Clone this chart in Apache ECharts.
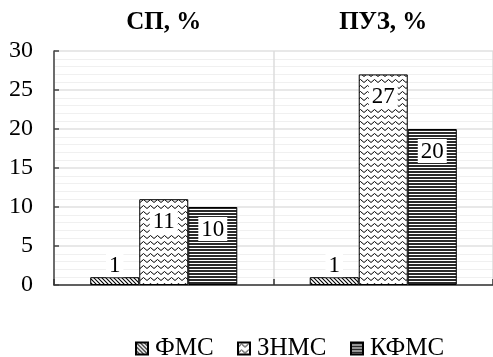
<!DOCTYPE html>
<html><head><meta charset="utf-8">
<script src="https://cdn.jsdelivr.net/npm/echarts@6/dist/echarts.min.js"></script>
<style>html,body{margin:0;padding:0;background:#fff}#c{width:493px;height:357px}</style>
</head><body><div id="c"></div>
<script>
const categories = ['СП, %', 'ПУЗ, %'];
const seriesNames = ['ФМС', 'ЗНМС', 'КФМС'];
const fmsValues = [1, 1];
const znmsValues = [11, 27];
const kfmsValues = [10, 20];
const yTicks = [0, 5, 10, 15, 20, 25, 30];

function makePattern(kind) {
  const c = document.createElement('canvas');
  const ctx = c.getContext('2d');
  if (kind === 'diag') {
    c.width = 4; c.height = 4;
    ctx.fillStyle = '#fff'; ctx.fillRect(0, 0, 4, 4);
    ctx.strokeStyle = '#000'; ctx.lineWidth = 1.1;
    ctx.beginPath();
    ctx.moveTo(-1, -1); ctx.lineTo(5, 5);
    ctx.moveTo(-1, 3); ctx.lineTo(1, 5);
    ctx.moveTo(3, -1); ctx.lineTo(5, 1);
    ctx.stroke();
  } else if (kind === 'zig') {
    c.width = 7; c.height = 6;
    ctx.fillStyle = '#fff'; ctx.fillRect(0, 0, 7, 6);
    ctx.strokeStyle = '#000'; ctx.lineWidth = 1;
    ctx.beginPath();
    ctx.moveTo(0, 4.5); ctx.lineTo(3.5, 1.5); ctx.lineTo(7, 4.5);
    ctx.stroke();
  } else {
    c.width = 4; c.height = 3;
    ctx.fillStyle = '#fff'; ctx.fillRect(0, 0, 4, 3);
    ctx.fillStyle = '#2a2a2a'; ctx.fillRect(0, 0, 4, 2);
  }
  return { image: c, repeat: 'repeat' };
}

const font = 'Liberation Serif';
const chart = echarts.init(document.getElementById('c'));
const labelBase = {
  show: true, fontFamily: font, fontSize: 23, color: '#000',
  backgroundColor: '#fff', padding: [1, 3, 0, 3], lineHeight: 23
};
const legendLefts = [135, 237, 350];
const legends = seriesNames.map((n, i) => ({
  bottom: -4, left: legendLefts[i], itemWidth: 12, itemHeight: 12, padding: 0,
  textStyle: { fontFamily: font, fontSize: 25, color: '#000', padding: [0, 0, 0, 2] },
  icon: 'rect', data: [n]
}));
chart.setOption({
  animation: false,
  textStyle: { fontFamily: font, color: '#000' },
  grid: { left: 54, right: -1, top: 51, bottom: 72, containLabel: false },
  legend: legends,
  xAxis: [
    {
      type: 'category', data: categories, position: 'top',
      axisLine: { show: false }, axisTick: { show: false },
      axisLabel: { fontFamily: font, fontSize: 25, fontWeight: 'bold', color: '#000', margin: 16 }
    },
    {
      type: 'category', data: categories, position: 'bottom',
      axisLine: { show: true, lineStyle: { color: '#333', width: 1.5 } },
      axisTick: { show: true, inside: true, length: 6, lineStyle: { color: '#333', width: 1.5 } },
      axisLabel: { show: false },
      splitLine: { show: true, lineStyle: { color: '#ddd', width: 1.5 } }
    }
  ],
  yAxis: {
    type: 'value', min: yTicks[0], max: yTicks[yTicks.length - 1], interval: 5,
    axisLine: { show: true, lineStyle: { color: '#444', width: 1.5 } },
    axisTick: { show: true, inside: true, length: 5, lineStyle: { color: '#444', width: 1.5 } },
    axisLabel: { fontFamily: font, fontSize: 24, color: '#000', margin: 21 },
    splitLine: { show: true, lineStyle: { color: '#e0e0e0', width: 1.5 } },
    minorTick: { show: false, splitNumber: 5 },
    minorSplitLine: { show: true, lineStyle: { color: '#f0f0f0', width: 1.2 } }
  },
  series: [
    {
      name: seriesNames[0], type: 'bar', xAxisIndex: 1, data: fmsValues,
      barGap: '0%', barCategoryGap: '33%',
      itemStyle: { color: makePattern('diag'), borderColor: '#000', borderWidth: 1 },
      label: Object.assign({}, labelBase, { position: 'top', distance: 0 })
    },
    {
      name: seriesNames[1], type: 'bar', xAxisIndex: 1, data: znmsValues,
      barGap: '0%', barCategoryGap: '33%',
      itemStyle: { color: makePattern('zig'), borderColor: '#000', borderWidth: 1 },
      label: Object.assign({}, labelBase, { position: 'insideTop', distance: 10 })
    },
    {
      name: seriesNames[2], type: 'bar', xAxisIndex: 1, data: kfmsValues,
      barGap: '0%', barCategoryGap: '33%',
      itemStyle: { color: makePattern('hline'), borderColor: '#000', borderWidth: 1 },
      label: Object.assign({}, labelBase, { position: 'insideTop', distance: 10 })
    }
  ]
});
</script></body></html>
